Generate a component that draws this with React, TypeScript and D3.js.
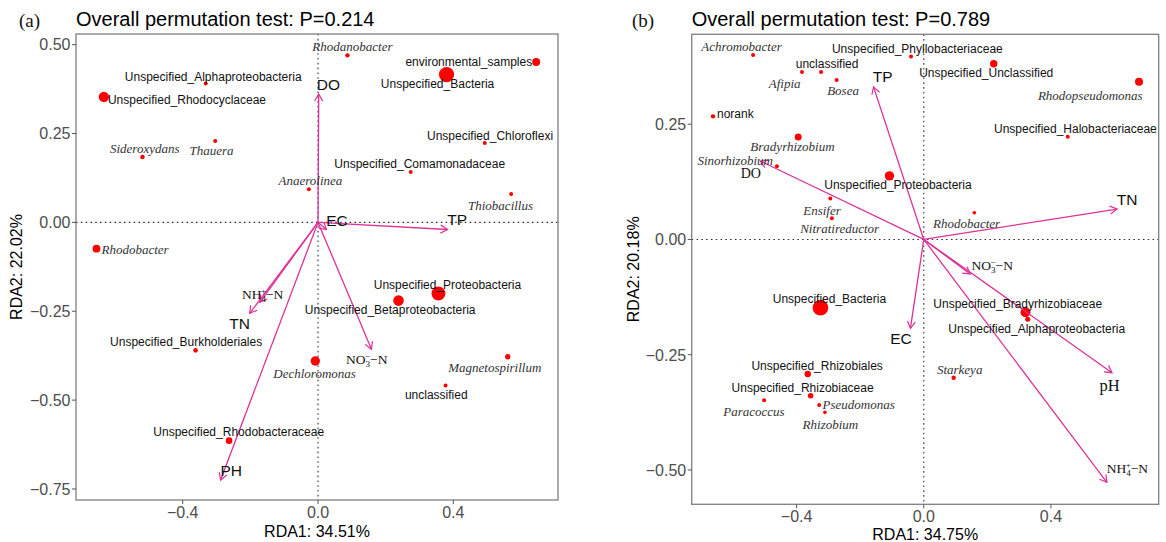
import React from 'react';
import * as d3 from 'd3';

const W = 1166;
const H = 542;
const SANS = '"Liberation Sans", Arial, Helvetica, sans-serif';
const SERIF = '"Liberation Serif", "Times New Roman", Times, serif';
const ARROW = '#dc3297';

// ---------- panel (a) ----------
const speciesA = [
    'Rhodanobacter', 'environmental_samples', 'Unspecified_Bacteria', 'Unspecified_Alphaproteobacteria',
    'Unspecified_Rhodocyclaceae', 'Sideroxydans', 'Thauera', 'Anaerolinea', 'Unspecified_Chloroflexi',
    'Unspecified_Comamonadaceae', 'Thiobacillus', 'Rhodobacter', 'Unspecified_Proteobacteria',
    'Unspecified_Betaproteobacteria', 'Dechloromonas', 'Magnetospirillum', 'unclassified',
    'Unspecified_Burkholderiales', 'Unspecified_Rhodobacteraceae'
];
const rda1A = [0.087, 0.645, 0.380, -0.332, -0.633, -0.519, -0.304, -0.027, 0.493, 0.274, 0.571, -0.655, 0.356, 0.238, -0.008, 0.561, 0.377, -0.362, -0.263];
const rda2A = [0.470, 0.451, 0.416, 0.391, 0.353, 0.184, 0.229, 0.093, 0.223, 0.142, 0.080, -0.074, -0.200, -0.220, -0.390, -0.378, -0.459, -0.360, -0.614];
const abundA = [4.8, 16, 58, 4, 27, 5.3, 4, 4, 4, 4, 4, 15, 48, 28, 22, 7.3, 4, 5.3, 11];

const envA = ['DO', 'EC', 'TP', 'NH4', 'TN', 'PH', 'NO3'];
const envRda1A = [0.002, 0.025, 0.383, -0.172, -0.202, -0.288, 0.158];
const envRda2A = [0.361, -0.020, -0.020, -0.225, -0.256, -0.725, -0.357];

// ---------- panel (b) ----------
const speciesB = [
    'Achromobacter', 'Unspecified_Phyllobacteriaceae', 'Afipia', 'unclassified', 'Bosea',
    'Unspecified_Unclassified', 'Rhodopseudomonas', 'Unspecified_Halobacteriaceae', 'norank',
    'Bradyrhizobium', 'Sinorhizobium', 'Unspecified_Proteobacteria', 'Ensifer', 'Nitratireductor',
    'Rhodobacter', 'Unspecified_Bacteria', 'Unspecified_Rhizobiales', 'Unspecified_Rhizobiaceae',
    'Paracoccus', 'Pseudomonas', 'Rhizobium', 'Unspecified_Bradyrhizobiaceae',
    'Unspecified_Alphaproteobacteria', 'Starkeya'
];
const rda1B = [-0.537, -0.040, -0.383, -0.323, -0.274, 0.220, 0.677, 0.453, -0.663, -0.395, -0.462, -0.108, -0.294, -0.289, 0.159, -0.325, -0.365, -0.356, -0.502, -0.329, -0.311, 0.320, 0.327, 0.094];
const rda2B = [0.400, 0.397, 0.363, 0.363, 0.346, 0.381, 0.342, 0.223, 0.267, 0.222, 0.159, 0.138, 0.089, 0.046, 0.058, -0.148, -0.292, -0.339, -0.349, -0.359, -0.375, -0.158, -0.173, -0.300];
const abundB = [4, 4, 4, 4, 4, 13.7, 16, 4, 4.8, 12.3, 4, 22, 4, 4, 3.3, 61, 10.2, 7.8, 4, 4, 3.3, 25, 6.3, 4.8];

const envB = ['TP', 'DO', 'TN', 'NO3', 'EC', 'pH', 'NH4'];
const envRda1B = [-0.158, -0.514, 0.608, 0.146, -0.042, 0.592, 0.576];
const envRda2B = [0.331, 0.170, 0.066, -0.075, -0.193, -0.289, -0.527];

// label placement: pixel nudge from the point [dx, dy, anchor]
const nudgeA: [number, number, string][] = [
    [5, -8.5, 'middle'], [-4, 0, 'end'], [-9, 9, 'middle'], [7.5, -7, 'middle'],
    [4, 2.6, 'start'], [2.3, -8.7, 'middle'], [-3.6, 9.7, 'middle'], [1.5, -9.3, 'middle'],
    [5.3, -7.7, 'middle'], [9, -7.7, 'middle'], [-10.6, 11.7, 'middle'], [5, 0.3, 'start'],
    [9, -8.6, 'middle'], [-8.4, 9.3, 'middle'], [-0.7, 12.5, 'middle'], [-13, 10.6, 'middle'],
    [-9.3, 9.3, 'middle'], [-9.4, -8.3, 'middle'], [9.7, -8.7, 'middle']
];
const nudgeB: [number, number, string][] = [
    [-11.5, -8.6, 'middle'], [6.3, -7.8, 'middle'], [-17.4, 11, 'middle'], [6, -8.3, 'middle'],
    [6.4, 11, 'middle'], [-7.5, 9, 'middle'], [-48.7, 13.3, 'middle'], [7.6, -8, 'middle'],
    [4, -2.3, 'start'], [-5.7, 9, 'middle'], [-41.7, -6, 'middle'], [8.5, 8.6, 'middle'],
    [-8.3, 11.7, 'middle'], [7.8, 10.7, 'middle'], [-7.8, 10.6, 'middle'], [9, -8.4, 'middle'],
    [9.4, -8.3, 'middle'], [-8, -8, 'middle'], [-10.2, 10.7, 'middle'], [3.3, -0.7, 'start'],
    [5.5, 11.7, 'middle'], [-7.8, -8, 'middle'], [9, 10, 'middle'], [6, -8.7, 'middle']
];
const envNudgeA: [number, number][] = [[9.7, -9.7], [10.5, -9.3], [9.7, -10.3], [2.8, -8], [-10, 10], [10.7, -10], [-4.7, 10]];
const envNudgeB: [number, number][] = [[9.2, -10], [-9.5, 11.7], [10, -10], [22, -9], [-9.5, 10], [-2.4, 12.3], [20.5, -14]];

const radius = d3.scaleSqrt().domain([0, 64]).range([0, 8]);
const minus = (s: string) => s.replace('-', '\u2212');

const isItalic = (name: string) => !/^(Unspecified_|unclassified|norank|environmental)/.test(name);

function EnvLabel({ name, x, y, serif }: { name: string; x: number; y: number; serif: boolean }) {
    if (name === 'NH4' || name === 'NO3') {
        const fs = 13.5;
        const sub = name === 'NH4' ? '4' : '3';
        const sup = name === 'NH4' ? '+' : '\u2212';
        return (
            <text x={x} y={y + fs * 0.35} textAnchor="middle" fontFamily={SERIF} fontSize={fs} fill="#111">
                {name === 'NH4' ? 'NH' : 'NO'}
                <tspan fontSize={9} dy={3}>{sub}</tspan>
                <tspan fontSize={9} dx={-5} dy={-8}>{sup}</tspan>
                <tspan dy={5}>{'\u2212N'}</tspan>
            </text>
        );
    }
    const fs = serif ? (name === 'DO' ? 14 : 16.5) : 15.5;
    return (
        <text x={x} y={y + fs * 0.36} textAnchor="middle" fontFamily={serif ? SERIF : SANS} fontSize={fs} fill="#111">
            {name}
        </text>
    );
}

function RdaPanel(props: any) {
    const {
        id, frame, xDomain, yDomain, xTicks, yTicks, title, tag, tagX, xTitle, yTitle, yTitleX,
        species, rda1, rda2, abund, nudge, env, envRda1, envRda2, envNudge, serifEnv
    } = props;
    const x = d3.scaleLinear().domain(xDomain).range([frame.left, frame.right]);
    const y = d3.scaleLinear().domain(yDomain).range([frame.bottom, frame.top]);
    const x0 = x(0);
    const y0 = y(0);
    const cx = (frame.left + frame.right) / 2;
    const cy = (frame.top + frame.bottom) / 2;

    return (
        <g>
            <defs>
                <marker id={id} viewBox="-8 -5 10 10" refX={0} refY={0} markerWidth={10} markerHeight={10}
                    markerUnits="userSpaceOnUse" orient="auto">
                    <path d="M-7,-4 L0,0 L-7,4" fill="none" stroke={ARROW} strokeWidth={1.2} />
                </marker>
            </defs>

            <text x={tagX} y={27} fontFamily={SERIF} fontSize={19} fill="#111">{tag}</text>
            <text x={frame.left} y={26} fontFamily={SANS} fontSize={20} fill="#000">{title}</text>

            {/* zero reference lines */}
            <line x1={frame.left} x2={frame.right} y1={y0} y2={y0} stroke="#333" strokeWidth={1.1} strokeDasharray="1.6 3.2" />
            <line x1={x0} x2={x0} y1={frame.top} y2={frame.bottom} stroke="#333" strokeWidth={1.1} strokeDasharray="1.6 3.2" />

            {/* species points */}
            {species.map((s: string, i: number) => (
                <circle key={s} cx={x(rda1[i])} cy={y(rda2[i])} r={radius(abund[i])} fill="#f00" />
            ))}

            {/* environmental arrows */}
            {env.map((e: string, i: number) => (
                <line key={e} x1={x0} y1={y0} x2={x(envRda1[i])} y2={y(envRda2[i])}
                    stroke={ARROW} strokeWidth={1.3} markerEnd={`url(#${id})`} />
            ))}

            {/* species labels */}
            {species.map((s: string, i: number) => {
                const it = isItalic(s);
                const fs = it ? 13 : 12;
                return (
                    <text key={s} x={x(rda1[i]) + nudge[i][0]} y={y(rda2[i]) + nudge[i][1] + fs * 0.35}
                        textAnchor={nudge[i][2]} fontFamily={it ? SERIF : SANS} fontStyle={it ? 'italic' : 'normal'}
                        fontSize={fs} fill={it ? '#333' : '#111'}>
                        {s}
                    </text>
                );
            })}

            {/* env labels */}
            {env.map((e: string, i: number) => (
                <EnvLabel key={e} name={e} x={x(envRda1[i]) + envNudge[i][0]} y={y(envRda2[i]) + envNudge[i][1]}
                    serif={serifEnv.includes(e)} />
            ))}

            {/* frame */}
            <rect x={frame.left} y={frame.top} width={frame.right - frame.left} height={frame.bottom - frame.top}
                fill="none" stroke="#7f7f7f" strokeWidth={1.3} />

            {/* axes */}
            {xTicks.map((t: number) => (
                <g key={'x' + t}>
                    <line x1={x(t)} x2={x(t)} y1={frame.bottom} y2={frame.bottom + 4} stroke="#555" strokeWidth={1} />
                    <text x={x(t)} y={frame.bottom + 17.5} textAnchor="middle" fontFamily={SANS} fontSize={16} fill="#4d4d4d">
                        {minus(d3.format('.1f')(t))}
                    </text>
                </g>
            ))}
            {yTicks.map((t: number) => (
                <g key={'y' + t}>
                    <line x1={frame.left - 4} x2={frame.left} y1={y(t)} y2={y(t)} stroke="#555" strokeWidth={1} />
                    <text x={frame.left - 5.5} y={y(t) + 5.8} textAnchor="end" fontFamily={SANS} fontSize={16} fill="#4d4d4d">
                        {minus(d3.format('.2f')(t))}
                    </text>
                </g>
            ))}

            <text x={cx} y={Math.min(frame.bottom + 37, 539.5)} textAnchor="middle" fontFamily={SANS} fontSize={16} fill="#000">{xTitle}</text>
            <text transform={`translate(${yTitleX},${cy}) rotate(-90)`} y={6} textAnchor="middle"
                fontFamily={SANS} fontSize={16} fill="#000">{yTitle}</text>
        </g>
    );
}

export default function App() {
    return (
        <svg width={W} height={H} style={{ position: 'absolute', left: 0, top: 0, background: '#fff' }}>
            <rect width={W} height={H} fill="#fff" />
            <RdaPanel
                id="arrA"
                frame={{ left: 76, top: 34, right: 558, bottom: 500 }}
                xDomain={[-0.7155, 0.7095]}
                yDomain={[-0.781, 0.530]}
                xTicks={[-0.4, 0, 0.4]}
                yTicks={[-0.75, -0.5, -0.25, 0, 0.25, 0.5]}
                title="Overall permutation test: P=0.214"
                tag="(a)"
                tagX={19}
                xTitle="RDA1: 34.51%"
                yTitle="RDA2: 22.02%"
                yTitleX={16}
                species={speciesA} rda1={rda1A} rda2={rda2A} abund={abundA} nudge={nudgeA}
                env={envA} envRda1={envRda1A} envRda2={envRda2A} envNudge={envNudgeA}
                serifEnv={['NH4', 'NO3']}
            />
            <RdaPanel
                id="arrB"
                frame={{ left: 691.7, top: 34.3, right: 1158.7, bottom: 504.3 }}
                xDomain={[-0.730, 0.739]}
                yDomain={[-0.5745, 0.445]}
                xTicks={[-0.4, 0, 0.4]}
                yTicks={[-0.5, -0.25, 0, 0.25]}
                title="Overall permutation test: P=0.789"
                tag="(b)"
                tagX={632}
                xTitle="RDA1: 34.75%"
                yTitle="RDA2: 20.18%"
                yTitleX={633}
                species={speciesB} rda1={rda1B} rda2={rda2B} abund={abundB} nudge={nudgeB}
                env={envB} envRda1={envRda1B} envRda2={envRda2B} envNudge={envNudgeB}
                serifEnv={['NH4', 'NO3', 'DO', 'pH']}
            />
        </svg>
    );
}
